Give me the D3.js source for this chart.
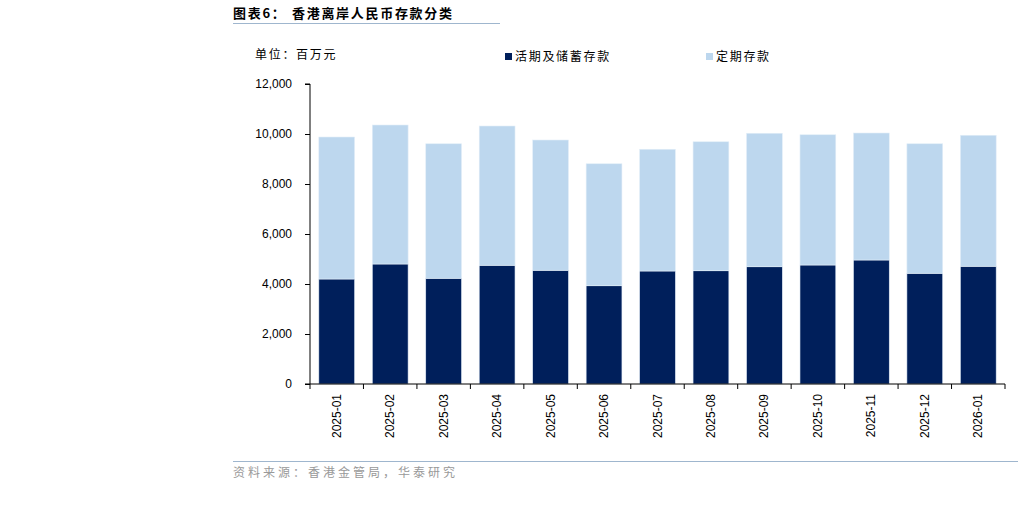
<!DOCTYPE html>
<html>
<head>
<meta charset="utf-8">
<script src="https://cdn.jsdelivr.net/npm/d3@7"></script>
<style>
  body { margin: 0; background: #fff; }
  svg text { font-family: "Liberation Sans", Arial, sans-serif; }
  .cjk { font-family: "Noto Sans CJK SC", sans-serif; }
</style>
</head>
<body>
<svg id="chart" width="1027" height="523"></svg>
<script>
// data (百万元)
const months = ["2025-01", "2025-02", "2025-03", "2025-04", "2025-05", "2025-06", "2025-07",
                "2025-08", "2025-09", "2025-10", "2025-11", "2025-12", "2026-01"];
const demandSavings = [4200, 4800, 4230, 4750, 4550, 3930, 4520, 4530, 4690, 4760, 4960, 4430, 4710];
const timeDeposits  = [5680, 5560, 5380, 5570, 5210, 4880, 4870, 5160, 5340, 5210, 5080, 5180, 5240];
const yTicks = [0, 2000, 4000, 6000, 8000, 10000, 12000];
const seriesNames = ["活期及储蓄存款", "定期存款"];
const colors = ["#001F5B", "#BDD7EE"];

const svg = d3.select("#chart");

const M = { left: 310, right: 1005, top: 84, bottom: 384 };

const x = d3.scaleBand().domain(months).range([M.left, M.right]).paddingInner(0.33).paddingOuter(0.165);
const y = d3.scaleLinear().domain([0, 12000]).range([M.bottom, M.top]);

/* title */
const title = svg.append("text").attr("class", "cjk")
  .attr("y", 18).attr("font-size", 13).attr("font-weight", "bold").attr("fill", "#000")
  .attr("letter-spacing", 1.7);
title.append("tspan").attr("x", 233).text("图表6：");
title.append("tspan").attr("x", 292).text("香港离岸人民币存款分类");
svg.append("line").attr("x1", 233).attr("x2", 500).attr("y1", 23.5).attr("y2", 23.5)
  .attr("stroke", "#9FB6CE").attr("stroke-width", 1);

svg.append("text").attr("class", "cjk")
  .attr("x", 255).attr("y", 59).attr("font-size", 12).attr("fill", "#000")
  .attr("letter-spacing", 1.7)
  .text("单位：百万元");

/* legend */
const legendX = [505, 706];
seriesNames.forEach((name, i) => {
  svg.append("rect").attr("x", legendX[i]).attr("y", 53).attr("width", 7).attr("height", 7)
    .attr("fill", colors[i]);
  svg.append("text").attr("class", "cjk")
    .attr("x", legendX[i] + 10).attr("y", 61).attr("font-size", 12).attr("fill", "#000")
    .attr("letter-spacing", 1.7)
    .text(name);
});

/* stacked bars */
const rows = months.map((m, i) => ({ month: m, d: demandSavings[i], t: timeDeposits[i] }));
const stack = d3.stack().keys(["d", "t"])(rows);

svg.append("g").selectAll("g")
  .data(stack).enter()
  .append("g")
  .attr("fill", (s, i) => colors[i])
  .selectAll("rect")
  .data(s => s).enter()
  .append("rect")
  .attr("x", d => x(d.data.month))
  .attr("width", x.bandwidth())
  .attr("y", d => y(d[1]))
  .attr("height", d => y(d[0]) - y(d[1]))
  .attr("stroke", "#E4EEF8")
  .attr("stroke-width", 0.6);

/* axes */
const yAxis = d3.axisLeft(y).tickValues(yTicks).tickSize(5).tickPadding(13)
  .tickFormat(d3.format(","));
const gy = svg.append("g").attr("transform", `translate(${M.left},0)`).call(yAxis);
gy.select(".domain").attr("d", `M-5,${M.top}H0V${M.bottom}`);
gy.selectAll("text").attr("font-size", 12).attr("fill", "#000");

const gx = svg.append("g").attr("transform", `translate(0,${M.bottom})`);
gx.append("line").attr("x1", M.left - 5).attr("x2", M.right).attr("stroke", "#000");
const bounds = [M.left].concat(months.map(m => x(m) + x.bandwidth() + x.step() * x.paddingInner() / 2));
gx.selectAll(".tk").data(bounds).enter().append("line")
  .attr("x1", d => d).attr("x2", d => d).attr("y1", 0).attr("y2", 5).attr("stroke", "#000");
gx.selectAll(".lbl").data(months).enter().append("text")
  .attr("transform", d => `translate(${x(d) + x.bandwidth() / 2 + 4},10) rotate(-90)`)
  .attr("text-anchor", "end").attr("font-size", 12).attr("fill", "#000")
  .text(d => d);

/* source */
svg.append("line").attr("x1", 233).attr("x2", 1018).attr("y1", 461.5).attr("y2", 461.5)
  .attr("stroke", "#9FB6CE").attr("stroke-width", 1);
svg.append("text").attr("class", "cjk")
  .attr("x", 233).attr("y", 477).attr("font-size", 12).attr("fill", "#999")
  .attr("letter-spacing", 3)
  .text("资料来源：香港金管局，华泰研究");
</script>
</body>
</html>
